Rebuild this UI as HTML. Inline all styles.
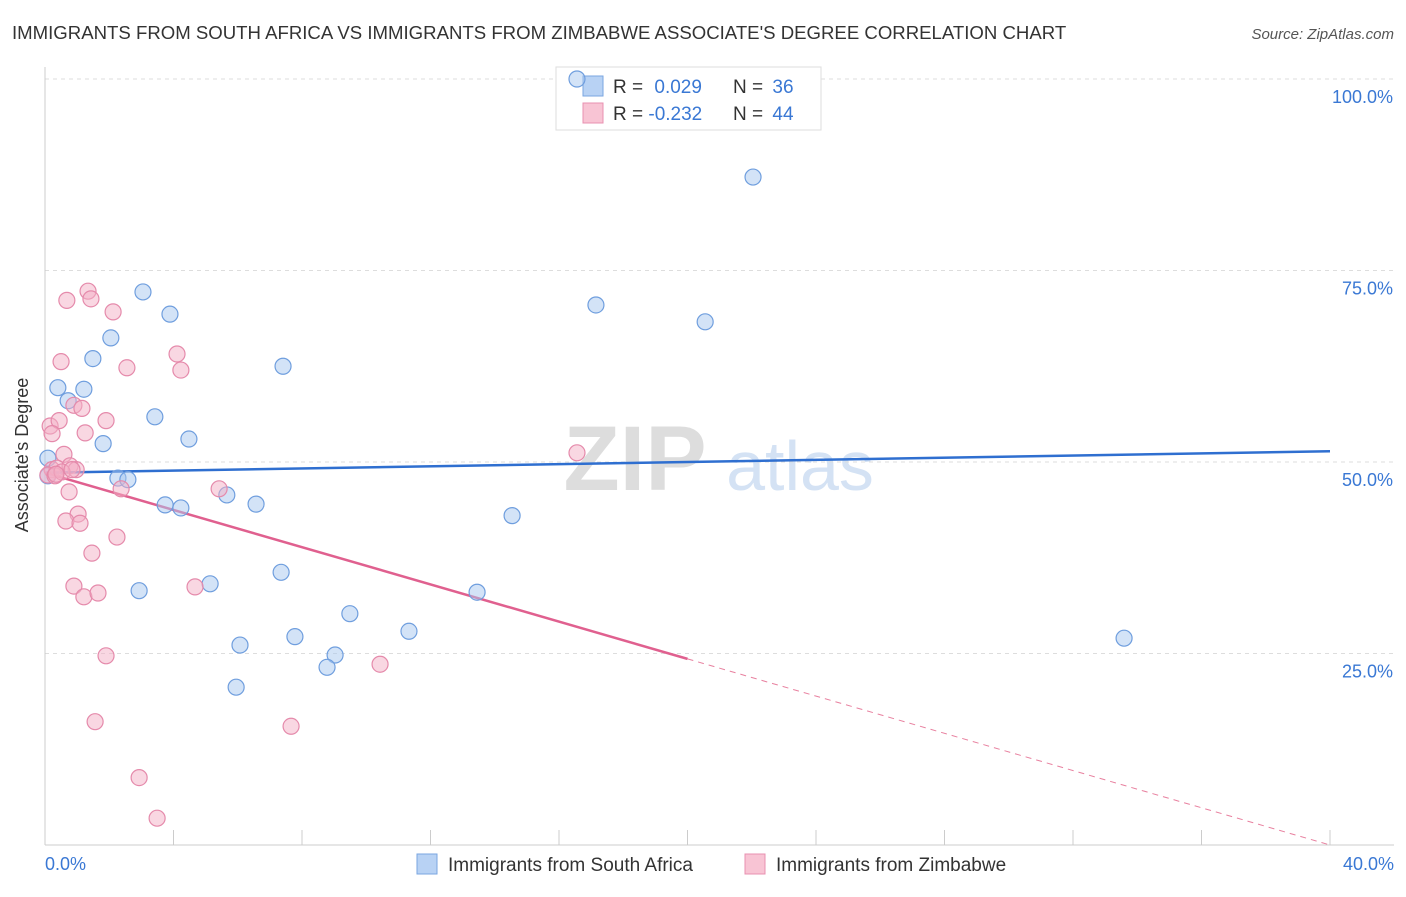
<!DOCTYPE html>
<html><head><meta charset="utf-8"><style>
body{margin:0;background:#fff;font-family:"Liberation Sans",sans-serif}
svg text{font-family:"Liberation Sans",sans-serif}
</style></head><body>
<svg id="chart" width="1406" height="892" xmlns="http://www.w3.org/2000/svg">
<text x="12" y="39" font-size="18.6" fill="#333">IMMIGRANTS FROM SOUTH AFRICA VS IMMIGRANTS FROM ZIMBABWE ASSOCIATE'S DEGREE CORRELATION CHART</text>
<text x="1394" y="39" font-size="15" fill="#555" font-style="italic" text-anchor="end">Source: ZipAtlas.com</text>
<g><text x="635" y="490" font-size="92" fill="#ddd" text-anchor="middle" font-family="Liberation Serif" font-weight="bold">ZIP</text><text x="800" y="490" font-size="70" fill="#d4e2f4" text-anchor="middle">atlas</text></g>
<g id="grid"></g><g id="axes"></g>
<g>
<rect x="556" y="67" width="265" height="63" fill="#fff" stroke="#ddd"/>
<rect x="583" y="76" width="20" height="20" fill="#b8d2f4" stroke="#7aa6e0"/>
<rect x="583" y="103" width="20" height="20" fill="#f8c4d4" stroke="#e890b0"/>
<text x="613" y="93" font-size="19" fill="#333">R = <tspan dx="6" fill="#3a78d4">0.029</tspan></text>
<text x="733" y="93" font-size="19" fill="#333">N = <tspan dx="4" fill="#3a78d4">36</tspan></text>
<text x="613" y="120" font-size="19" fill="#333">R = <tspan dx="0" fill="#3a78d4">-0.232</tspan></text>
<text x="733" y="120" font-size="19" fill="#333">N = <tspan dx="4" fill="#3a78d4">44</tspan></text>
</g>
<g id="lines"></g><g id="pts"></g>
<text x="28" y="455" font-size="18" fill="#333" text-anchor="middle" transform="rotate(-90 28 455)">Associate's Degree</text>
<text x="45" y="870" font-size="18" fill="#3a78d4">0.0%</text>
<text x="1394" y="870" font-size="18" fill="#3a78d4" text-anchor="end">40.0%</text>
<g>
<rect x="417" y="854" width="20" height="20" fill="#b8d2f4" stroke="#7aa6e0"/>
<text x="448" y="871" font-size="19" fill="#333">Immigrants from South Africa</text>
<rect x="745" y="854" width="20" height="20" fill="#f8c4d4" stroke="#e890b0"/>
<text x="776" y="871" font-size="19" fill="#333">Immigrants from Zimbabwe</text>
</g>
</svg>
<script>
const blueX=[16.56,22.04,3.05,3.89,17.15,20.55,2.05,1.49,7.41,0.40,1.21,0.72,3.42,4.48,1.81,0.09,2.27,2.58,5.66,3.74,4.23,6.57,14.54,5.14,2.93,7.35,13.45,9.49,11.33,7.78,6.07,9.03,8.78,5.95,33.59,0.09];
const blueY=[100.0,87.2,72.2,69.3,70.5,68.3,66.2,63.5,62.5,59.7,59.5,58.0,55.9,53.0,52.4,50.5,47.9,47.7,45.7,44.4,44.0,44.5,43.0,34.1,33.2,35.6,33.0,30.2,27.9,27.2,26.1,24.8,23.2,20.6,27.0,48.2];
const pinkX=[1.34,0.68,1.43,2.12,0.50,2.55,4.11,4.23,0.16,0.44,0.90,1.15,1.90,0.22,1.25,0.59,0.22,0.37,0.78,0.97,0.09,0.31,0.53,2.37,0.75,5.42,1.03,0.65,1.09,2.24,1.46,0.90,1.21,1.65,4.67,16.56,1.90,10.43,1.56,7.66,2.93,3.49,0.34,0.84];
const pinkY=[72.3,71.1,71.3,69.6,63.1,62.3,64.1,62.0,54.7,55.4,57.4,57.0,55.4,53.7,53.8,51.0,49.0,49.2,49.5,49.0,48.3,48.2,48.7,46.5,46.1,46.5,43.2,42.3,42.0,40.2,38.1,33.8,32.4,32.9,33.7,51.2,24.7,23.6,16.1,15.5,8.8,3.5,48.4,49.0];
const yTicks=[25,50,75,100];
const xTicks=[0,4,8,12,16,20,24,28,32,36,40];
const blueTrend=[48.6,51.4];
const pinkTrend=[48.6,0];
const pinkSolidEnd=20;
const NS="http://www.w3.org/2000/svg";
const X=v=>45+v/40*1285, Y=v=>845-v/100*766;
function mk(p,t,a){const e=document.createElementNS(NS,t);for(const k in a)e.setAttribute(k,a[k]);document.getElementById(p).appendChild(e);return e;}
yTicks.forEach(t=>{
 const g=mk('grid','line',{x1:45,x2:1394,y1:Y(t),y2:Y(t),stroke:'#ddd','stroke-dasharray':'4,4'});
 
 
 const l=mk('grid','text',{x:1393,y:Y(t)+24,'font-size':18,fill:'#3a78d4','text-anchor':'end'});l.textContent=t.toFixed(1)+'%';
 
 
});
const ax=mk('axes','line',{x1:45,x2:45,y1:67,y2:845,stroke:'#ccc'});


const bx=mk('axes','line',{x1:45,x2:1394,y1:845,y2:845,stroke:'#ccc'});


xTicks.forEach(t=>{const e=mk('axes','line',{x1:X(t),x2:X(t),y1:830,y2:845,stroke:'#ccc'});
 
 });
function dots(xs,ys,fill,stroke,name){xs.forEach((x,i)=>{const c=mk('pts','circle',{cx:X(x),cy:Y(ys[i]),r:8,fill:fill,'fill-opacity':0.5,stroke:stroke,'stroke-width':1.2});
 
 });}
dots(blueX,blueY,'#a8c8f0','#6f9ede','point-south-africa');
dots(pinkX,pinkY,'#f4b0c6','#e58aab','point-zimbabwe');
const bl=mk('lines','line',{x1:X(0),y1:Y(blueTrend[0]),x2:X(40),y2:Y(blueTrend[1]),stroke:'#2f6fd0','stroke-width':2.5});


const py=v=>pinkTrend[0]+(pinkTrend[1]-pinkTrend[0])*v/40;
const pl=mk('lines','line',{x1:X(0),y1:Y(py(0)),x2:X(pinkSolidEnd),y2:Y(py(pinkSolidEnd)),stroke:'#e0608f','stroke-width':2.5});


const pd=mk('lines','line',{x1:X(pinkSolidEnd),y1:Y(py(pinkSolidEnd)),x2:X(40),y2:Y(py(40)),stroke:'#e8809f','stroke-width':1,'stroke-dasharray':'6,5'});


</script>
</body></html>
